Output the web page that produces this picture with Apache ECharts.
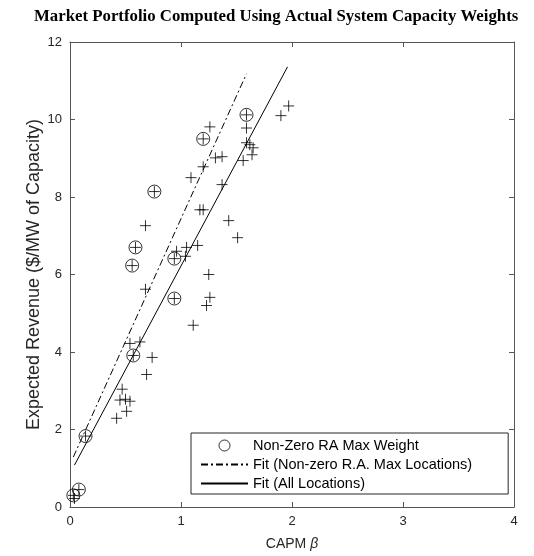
<!DOCTYPE html>
<html>
<head>
<meta charset="utf-8">
<script src="https://cdn.jsdelivr.net/npm/echarts@6/dist/echarts.min.js"></script>
<style>
  html, body { margin: 0; padding: 0; background: #fff; }
  #chart { width: 534px; height: 556px; }
</style>
</head>
<body>
<div id="chart"></div>
<script>
// Locations with a non-zero risk-averse max weight (circled)
const raBeta = [0.03, 0.08, 0.14, 0.57, 0.56, 0.59, 0.94, 0.94, 0.76, 1.20, 1.59];
const raRevenue = [0.30, 0.45, 1.83, 3.91, 6.23, 6.70, 6.41, 5.38, 8.14, 9.50, 10.12];

// All locations (plus markers); includes the circled ones
const allBeta = [
  0.03, 0.08, 0.04, 0.14, 0.57, 0.56, 0.59, 0.94, 0.94, 0.76, 1.20, 1.59,
  0.54, 0.63, 0.74, 0.69, 0.47, 0.45, 0.50, 0.54, 0.51, 0.42,
  0.68, 0.68, 0.96, 1.05, 1.04, 1.15, 1.17, 1.20, 1.43, 1.51,
  1.25, 1.26, 1.23, 1.11, 1.59, 1.59, 1.62, 1.65, 1.64, 1.56,
  1.90, 1.97, 1.26, 1.09, 1.20, 1.31, 1.37, 1.37
];
const allRevenue = [
  0.30, 0.45, 0.22, 1.83, 3.91, 6.23, 6.70, 6.41, 5.38, 8.14, 9.50, 10.12,
  4.22, 4.26, 3.86, 3.42, 3.04, 2.76, 2.78, 2.73, 2.47, 2.29,
  7.26, 5.62, 6.60, 6.70, 6.47, 6.75, 7.67, 7.67, 7.39, 6.95,
  6.00, 5.41, 5.20, 4.69, 9.78, 9.40, 9.35, 9.27, 9.09, 8.94,
  10.10, 10.35, 9.81, 8.50, 8.78, 9.01, 9.04, 8.32
];

// Fitted line end points
const fitRaBeta = [0.03, 1.59];
const fitRaRevenue = [1.29, 11.18];
const fitAllBeta = [0.04, 1.96];
const fitAllRevenue = [1.08, 11.36];

const xTicks = { min: 0, max: 4, interval: 1 };
const yTicks = { min: 0, max: 12, interval: 2 };

const zip = (a, b) => a.map((v, i) => [v, b[i]]);

const axisColor = '#555';
const labelColor = '#262626';
const sans = 'Liberation Sans, Arial, Helvetica, sans-serif';
const plusPath = 'path://M0,5L10,5M5,0L5,10';

const chart = echarts.init(document.getElementById('chart'), null, { renderer: 'canvas' });

const baseAxis = {
  axisLine: { show: true, onZero: false, lineStyle: { color: axisColor, width: 1 } },
  axisTick: { show: true, inside: true, length: 5, lineStyle: { color: axisColor } },
  splitLine: { show: false },
  axisLabel: { color: labelColor, fontFamily: sans, fontSize: 12 }
};

// Legend line icons carry no marker
const noMarker = { opacity: 0 };

chart.setOption({
  animation: false,
  backgroundColor: '#fff',
  title: {
    text: 'Market Portfolio Computed Using Actual System Capacity Weights',
    left: 29,
    top: 3,
    textStyle: { fontFamily: 'Liberation Serif, Times New Roman, serif', fontWeight: 'bold', fontSize: 16.8, color: '#000' }
  },
  grid: { left: 70, right: 20, top: 42, bottom: 48 },
  xAxis: [
    Object.assign({}, baseAxis, {
      type: 'value', position: 'bottom',
      min: xTicks.min, max: xTicks.max, interval: xTicks.interval,
      name: 'CAPM {b|β}', nameLocation: 'middle', nameGap: 30, nameMoveOverlap: false,
      nameTextStyle: {
        fontFamily: sans, fontSize: 14, color: labelColor,
        rich: { b: { fontFamily: sans, fontSize: 14, fontStyle: 'italic', color: labelColor } }
      },
      axisLabel: { color: labelColor, fontFamily: sans, fontSize: 13, margin: 8 }
    }),
    Object.assign({}, baseAxis, {
      type: 'value', position: 'top',
      min: xTicks.min, max: xTicks.max, interval: xTicks.interval,
      axisLabel: { show: false }
    })
  ],
  yAxis: [
    Object.assign({}, baseAxis, {
      type: 'value', position: 'left',
      min: yTicks.min, max: yTicks.max, interval: yTicks.interval,
      name: 'Expected Revenue ($/MW of Capacity)', nameLocation: 'middle', nameGap: 27, nameMoveOverlap: false,
      nameTextStyle: { fontFamily: sans, fontSize: 18, color: labelColor },
      axisLabel: { color: labelColor, fontFamily: sans, fontSize: 13, margin: 8 }
    }),
    Object.assign({}, baseAxis, {
      type: 'value', position: 'right',
      min: yTicks.min, max: yTicks.max, interval: yTicks.interval,
      axisLabel: { show: false }
    })
  ],
  legend: {
    orient: 'vertical',
    left: 191,
    top: 433,
    padding: [5, 36, 3, 9],
    itemWidth: 47,
    itemHeight: 11,
    itemGap: 4,
    borderColor: '#262626',
    borderWidth: 1,
    backgroundColor: '#fff',
    textStyle: { fontFamily: sans, fontSize: 14.5, lineHeight: 14, color: '#000' },
    data: [
      { name: 'Non-Zero RA Max Weight', itemStyle: { borderWidth: 1 } },
      { name: 'Fit (Non-zero R.A. Max Locations)', itemStyle: noMarker },
      { name: 'Fit (All Locations)', itemStyle: noMarker }
    ]
  },
  series: [
    {
      name: 'Non-Zero RA Max Weight',
      type: 'scatter',
      data: zip(raBeta, raRevenue),
      symbol: 'circle',
      symbolSize: 13,
      itemStyle: { color: 'rgba(0,0,0,0)', borderColor: '#000', borderWidth: 1 },
      z: 3
    },
    {
      name: 'All Locations',
      type: 'scatter',
      data: zip(allBeta, allRevenue),
      symbol: plusPath,
      symbolSize: 11,
      itemStyle: { color: 'rgba(0,0,0,0)', borderColor: '#000', borderWidth: 1 },
      z: 3
    },
    {
      name: 'Fit (Non-zero R.A. Max Locations)',
      type: 'line',
      data: zip(fitRaBeta, fitRaRevenue),
      symbol: 'none',
      lineStyle: { color: '#000', width: 1, type: [7, 3, 2, 3] },
      itemStyle: { color: '#000' },
      z: 2
    },
    {
      name: 'Fit (All Locations)',
      type: 'line',
      data: zip(fitAllBeta, fitAllRevenue),
      symbol: 'none',
      lineStyle: { color: '#000', width: 1, type: 'solid' },
      itemStyle: { color: '#000' },
      z: 2
    }
  ]
});
</script>
</body>
</html>
